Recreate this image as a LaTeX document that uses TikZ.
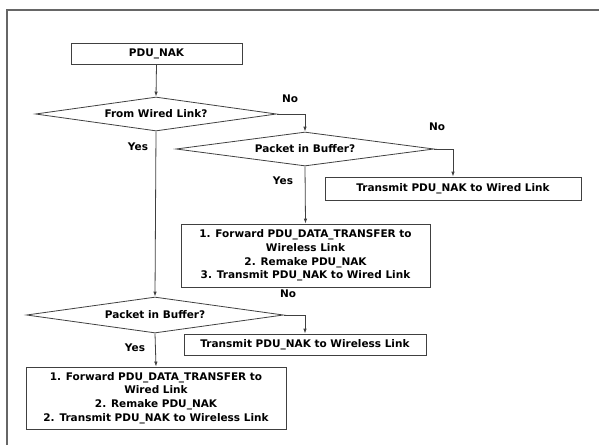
\documentclass[tikz,border=0pt]{standalone}
\usepackage{fontspec}
\setmainfont{DejaVu Sans}
\usetikzlibrary{shapes.geometric,arrows.meta}
\begin{document}
\begin{tikzpicture}[x=1pt,y=-1pt,
  every node/.style={font=\fontsize{10.5}{13.7}\selectfont\bfseries},
  box/.style={draw=black!75,line width=0.8pt,inner sep=0pt,align=center},
  dec/.style={draw=black!75,line width=0.8pt,diamond,inner sep=0pt},
  lbl/.style={inner sep=0pt},
  conn/.style={draw=black!75,line width=0.8pt,-{Latex[length=5pt,width=3.5pt]}}]
\useasboundingbox (0,0) rectangle (599,445);
\draw[black!60,line width=1.3pt] (7,445) -- (7,10) -- (599,10);
\node[box,minimum width=171pt,minimum height=21pt] (b1) at (156.5,53.5) {PDU\_NAK};
\node[dec,minimum width=241pt,minimum height=34pt,aspect=7.1] (d1) at (156,114) {From Wired Link?};
\node[dec,minimum width=258pt,minimum height=34pt,aspect=7.6] (d2) at (305,149) {Packet in Buffer?};
\node[box,minimum width=256pt,minimum height=23pt] (b2) at (453,188.5) {Transmit PDU\_NAK to Wired Link};
\node[box,minimum width=249pt,minimum height=63pt] (b3) at (305.5,255.5) {1. Forward PDU\_DATA\_TRANSFER to\\Wireless Link\\2. Remake PDU\_NAK\\3. Transmit PDU\_NAK to Wired Link};
\node[dec,minimum width=257pt,minimum height=36pt,aspect=7.1] (d3) at (155,315) {Packet in Buffer?};
\node[box,minimum width=242pt,minimum height=21pt] (b4) at (305,344.5) {Transmit PDU\_NAK to Wireless Link};
\node[box,minimum width=260pt,minimum height=62pt] (b5) at (156,398) {1. Forward PDU\_DATA\_TRANSFER to\\Wired Link\\2. Remake PDU\_NAK\\2. Transmit PDU\_NAK to Wireless Link};
\node[lbl] (n1) at (290,99) {No};
\node[lbl] (n2) at (437,127) {No};
\node[lbl] (y1) at (138,147) {Yes};
\node[lbl] (y2) at (283,181) {Yes};
\node[lbl] (n3) at (288,294) {No};
\node[lbl] (y3) at (135,348) {Yes};
\draw[conn] (b1.south) -- (d1.north);
\draw[conn] (d1.east) -| (d2.north);
\draw[conn] (d2.east) -| (b2.north);
\draw[conn] (d2.south) -- (b3.north);
\draw[conn] (d1.south) -- (d3.north);
\draw[conn] (d3.east) -| (b4.north);
\draw[conn] (d3.south) -- (b5.north);
\end{tikzpicture}
\end{document}
